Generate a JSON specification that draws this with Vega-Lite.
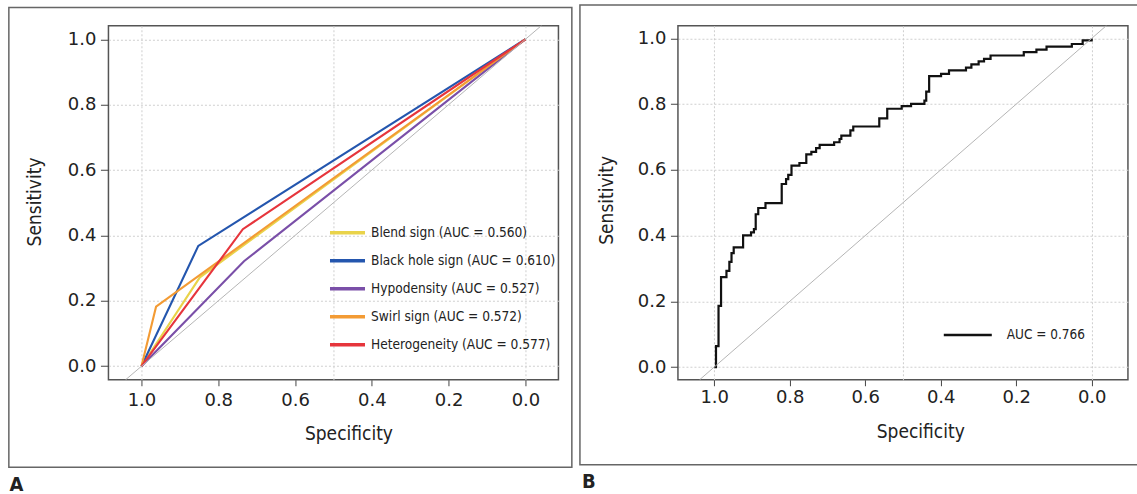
{
  "$schema": "https://vega.github.io/schema/vega-lite/v6.json",
  "background": "white",
  "padding": {"left": 6.45, "top": 2.75, "right": 0, "bottom": 0},
  "spacing": 4.5,
  "config": {
    "view": {"stroke": "#555", "strokeWidth": 1.5},
    "axis": {
      "domain": false,
      "grid": true,
      "gridColor": "#cfcfcf",
      "gridDash": [2, 2],
      "gridWidth": 1,
      "tickColor": "#444",
      "tickWidth": 1,
      "labelFont": "DejaVu Sans",
      "labelFontSize": 18,
      "labelColor": "#222",
      "labelFlush": false,
      "labelOverlap": false,
      "labelBound": false,
      "titleFont": "DejaVu Sans Condensed",
      "titleFontSize": 19,
      "titleFontWeight": "normal",
      "titleColor": "#222"
    }
  },
  "resolve": {
    "scale": {"x": "independent", "y": "independent", "color": "independent"},
    "legend": {"color": "independent"}
  },
  "hconcat": [
    {
      "width": 450,
      "height": 354,
      "layer": [
        {
          "data": {"values": [
            {"series": "Blend sign (AUC = 0.560)", "spec": 1, "sens": 0},
            {"series": "Blend sign (AUC = 0.560)", "spec": 0.848, "sens": 0.272},
            {"series": "Blend sign (AUC = 0.560)", "spec": 0, "sens": 1},
            {"series": "Black hole sign (AUC = 0.610)", "spec": 1, "sens": 0},
            {"series": "Black hole sign (AUC = 0.610)", "spec": 0.852, "sens": 0.368},
            {"series": "Black hole sign (AUC = 0.610)", "spec": 0, "sens": 1},
            {"series": "Hypodensity (AUC = 0.527)", "spec": 1, "sens": 0},
            {"series": "Hypodensity (AUC = 0.527)", "spec": 0.733, "sens": 0.321},
            {"series": "Hypodensity (AUC = 0.527)", "spec": 0, "sens": 1},
            {"series": "Swirl sign (AUC = 0.572)", "spec": 1, "sens": 0},
            {"series": "Swirl sign (AUC = 0.572)", "spec": 0.962, "sens": 0.182},
            {"series": "Swirl sign (AUC = 0.572)", "spec": 0, "sens": 1},
            {"series": "Heterogeneity (AUC = 0.577)", "spec": 1, "sens": 0},
            {"series": "Heterogeneity (AUC = 0.577)", "spec": 0.736, "sens": 0.419},
            {"series": "Heterogeneity (AUC = 0.577)", "spec": 0, "sens": 1}
          ]},
          "mark": {"type": "line", "strokeWidth": 2.1},
          "encoding": {
            "x": {
              "field": "spec", "type": "quantitative",
              "scale": {"domain": [1.086, -0.086], "nice": false, "zero": false},
              "axis": {
                "title": "Specificity",
                "values": [1, 0.8, 0.6, 0.5, 0.4, 0.2, 0],
                "labelExpr": "datum.value == 0.5 ? '' : format(datum.value, '.1f')",
                "gridOpacity": {"condition": {"test": "datum.value == 0 || datum.value == 0.5 || datum.value == 1", "value": 1}, "value": 0},
                "tickOpacity": {"condition": {"test": "datum.value == 0.5", "value": 0}, "value": 1},
                "tickSize": 6,
                "labelPadding": 5.5,
                "titleX": 240,
                "titleY": 59.5,
                "titleAlign": "center",
                "titleBaseline": "alphabetic"
              }
            },
            "y": {
              "field": "sens", "type": "quantitative",
              "scale": {"domain": [-0.0413, 1.0413], "nice": false, "zero": false},
              "axis": {
                "title": "Sensitivity",
                "values": [0, 0.2, 0.4, 0.6, 0.8, 1],
                "format": ".1f",
                "tickSize": 8,
                "labelPadding": 4.6,
                "titleX": -73.8,
                "titleY": 175.7,
                "titleAngle": -90,
                "titleAlign": "center",
                "titleBaseline": "middle"
              }
            },
            "color": {
              "field": "series", "type": "nominal",
              "scale": {
                "domain": ["Blend sign (AUC = 0.560)", "Black hole sign (AUC = 0.610)", "Hypodensity (AUC = 0.527)", "Swirl sign (AUC = 0.572)", "Heterogeneity (AUC = 0.577)"],
                "range": ["#E9D34A", "#2456AE", "#7A4FA8", "#F39B34", "#E6353C"]
              },
              "legend": {
                "title": null,
                "orient": "none",
                "legendX": 219.55,
                "legendY": 193.15,
                "padding": 0,
                "symbolType": "stroke",
                "symbolSize": 1225,
                "symbolStrokeWidth": 3.5,
                "symbolOpacity": 1,
                "clipHeight": 27.7,
                "rowPadding": 0,
                "labelOffset": 4,
                "labelLimit": 0,
                "labelFont": "DejaVu Sans Condensed",
                "labelFontSize": 13.6,
                "labelColor": "#222"
              }
            }
          }
        },
        {
          "data": {"values": [{}]},
          "mark": {"type": "rule", "color": "#b5b5b5", "strokeWidth": 1},
          "encoding": {
            "x": {"datum": 1.0413, "type": "quantitative"},
            "x2": {"datum": -0.0413},
            "y": {"datum": -0.0413, "type": "quantitative"},
            "y2": {"datum": 1.0413}
          }
        },
        {
          "data": {"values": [{}]},
          "mark": {"type": "rect", "filled": false, "stroke": "#666", "strokeWidth": 1.5},
          "encoding": {
            "x": {"datum": 1.3454, "type": "quantitative"},
            "x2": {"datum": -0.1209},
            "y": {"datum": 1.0973, "type": "quantitative"},
            "y2": {"datum": -0.3086}
          }
        },
        {
          "data": {"values": [{}]},
          "mark": {"type": "text", "text": "A", "align": "left", "baseline": "alphabetic", "font": "DejaVu Sans Condensed", "fontWeight": "bold", "fontSize": 20, "color": "#222"},
          "encoding": {
            "x": {"datum": 1.3438, "type": "quantitative"},
            "y": {"datum": -0.3808, "type": "quantitative"}
          }
        }
      ]
    },
    {
      "width": 450,
      "height": 354,
      "layer": [
        {
          "data": {"values": [
            {"label": "AUC = 0.766", "spec": 0, "sens": 1.0},
            {"label": "AUC = 0.766", "spec": 0.0239, "sens": 0.994},
            {"label": "AUC = 0.766", "spec": 0.0526, "sens": 0.983},
            {"label": "AUC = 0.766", "spec": 0.1196, "sens": 0.975},
            {"label": "AUC = 0.766", "spec": 0.1464, "sens": 0.966},
            {"label": "AUC = 0.766", "spec": 0.1799, "sens": 0.958},
            {"label": "AUC = 0.766", "spec": 0.2679, "sens": 0.948},
            {"label": "AUC = 0.766", "spec": 0.2852, "sens": 0.938},
            {"label": "AUC = 0.766", "spec": 0.2995, "sens": 0.930},
            {"label": "AUC = 0.766", "spec": 0.3187, "sens": 0.921},
            {"label": "AUC = 0.766", "spec": 0.3330, "sens": 0.911},
            {"label": "AUC = 0.766", "spec": 0.3780, "sens": 0.903},
            {"label": "AUC = 0.766", "spec": 0.3990, "sens": 0.892},
            {"label": "AUC = 0.766", "spec": 0.4306, "sens": 0.885},
            {"label": "AUC = 0.766", "spec": 0.4383, "sens": 0.838},
            {"label": "AUC = 0.766", "spec": 0.4431, "sens": 0.811},
            {"label": "AUC = 0.766", "spec": 0.4785, "sens": 0.801},
            {"label": "AUC = 0.766", "spec": 0.5033, "sens": 0.794},
            {"label": "AUC = 0.766", "spec": 0.5416, "sens": 0.786},
            {"label": "AUC = 0.766", "spec": 0.5627, "sens": 0.757},
            {"label": "AUC = 0.766", "spec": 0.6316, "sens": 0.732},
            {"label": "AUC = 0.766", "spec": 0.6392, "sens": 0.720},
            {"label": "AUC = 0.766", "spec": 0.6632, "sens": 0.704},
            {"label": "AUC = 0.766", "spec": 0.6679, "sens": 0.694},
            {"label": "AUC = 0.766", "spec": 0.6823, "sens": 0.684},
            {"label": "AUC = 0.766", "spec": 0.7206, "sens": 0.676},
            {"label": "AUC = 0.766", "spec": 0.7301, "sens": 0.666},
            {"label": "AUC = 0.766", "spec": 0.7426, "sens": 0.655},
            {"label": "AUC = 0.766", "spec": 0.7560, "sens": 0.647},
            {"label": "AUC = 0.766", "spec": 0.7742, "sens": 0.621},
            {"label": "AUC = 0.766", "spec": 0.7952, "sens": 0.613},
            {"label": "AUC = 0.766", "spec": 0.8038, "sens": 0.585},
            {"label": "AUC = 0.766", "spec": 0.8096, "sens": 0.572},
            {"label": "AUC = 0.766", "spec": 0.8211, "sens": 0.557},
            {"label": "AUC = 0.766", "spec": 0.8641, "sens": 0.499},
            {"label": "AUC = 0.766", "spec": 0.8833, "sens": 0.484},
            {"label": "AUC = 0.766", "spec": 0.8900, "sens": 0.465},
            {"label": "AUC = 0.766", "spec": 0.8947, "sens": 0.420},
            {"label": "AUC = 0.766", "spec": 0.9024, "sens": 0.410},
            {"label": "AUC = 0.766", "spec": 0.9234, "sens": 0.401},
            {"label": "AUC = 0.766", "spec": 0.9483, "sens": 0.364},
            {"label": "AUC = 0.766", "spec": 0.9541, "sens": 0.347},
            {"label": "AUC = 0.766", "spec": 0.9598, "sens": 0.320},
            {"label": "AUC = 0.766", "spec": 0.9675, "sens": 0.293},
            {"label": "AUC = 0.766", "spec": 0.9818, "sens": 0.274},
            {"label": "AUC = 0.766", "spec": 0.9885, "sens": 0.186},
            {"label": "AUC = 0.766", "spec": 0.9952, "sens": 0.064},
            {"label": "AUC = 0.766", "spec": 1.0, "sens": 0.0}
          ]},
          "mark": {"type": "line", "strokeWidth": 2.2, "interpolate": "step-after"},
          "encoding": {
            "x": {
              "field": "spec", "type": "quantitative",
              "scale": {"domain": [1.096, -0.096], "nice": false, "zero": false},
              "axis": {
                "title": "Specificity",
                "values": [1, 0.8, 0.6, 0.5, 0.4, 0.2, 0],
                "labelExpr": "datum.value == 0.5 ? '' : format(datum.value, '.1f')",
                "gridOpacity": {"condition": {"test": "datum.value == 0 || datum.value == 0.5 || datum.value == 1", "value": 1}, "value": 0},
                "tickOpacity": {"condition": {"test": "datum.value == 0.5", "value": 0}, "value": 1},
                "tickSize": 6,
                "labelPadding": 3.1,
                "titleX": 242.3,
                "titleY": 57.3,
                "titleAlign": "center",
                "titleBaseline": "alphabetic"
              }
            },
            "y": {
              "field": "sens", "type": "quantitative",
              "scale": {"domain": [-0.0385, 1.0385], "nice": false, "zero": false},
              "axis": {
                "title": "Sensitivity",
                "values": [0, 0.2, 0.4, 0.6, 0.8, 1],
                "format": ".1f",
                "tickSize": 7.5,
                "labelPadding": 4.5,
                "titleX": -71.4,
                "titleY": 174.1,
                "titleAngle": -90,
                "titleAlign": "center",
                "titleBaseline": "middle"
              }
            },
            "color": {
              "field": "label", "type": "nominal",
              "scale": {"range": ["#111111"]},
              "legend": {
                "title": null,
                "orient": "none",
                "legendX": 264.35,
                "legendY": 295.3,
                "padding": 0,
                "symbolType": "stroke",
                "symbolSize": 2304,
                "symbolStrokeWidth": 2.5,
                "symbolOpacity": 1,
                "clipHeight": 28,
                "rowPadding": 0,
                "labelOffset": 13.45,
                "labelLimit": 0,
                "labelFont": "DejaVu Sans Condensed",
                "labelFontSize": 13.5,
                "labelColor": "#222"
              }
            }
          }
        },
        {
          "data": {"values": [{}]},
          "mark": {"type": "rule", "color": "#b5b5b5", "strokeWidth": 1},
          "encoding": {
            "x": {"datum": 1.0385, "type": "quantitative"},
            "x2": {"datum": -0.0385},
            "y": {"datum": -0.0385, "type": "quantitative"},
            "y2": {"datum": 1.0385}
          }
        },
        {
          "data": {"values": [{}]},
          "mark": {"type": "rect", "filled": false, "stroke": "#666", "strokeWidth": 1.5},
          "encoding": {
            "x": {"datum": 1.3556, "type": "quantitative"},
            "x2": {"datum": -0.1233},
            "y": {"datum": 1.1015, "type": "quantitative"},
            "y2": {"datum": -0.2971}
          }
        },
        {
          "data": {"values": [{}]},
          "mark": {"type": "text", "text": "B", "align": "left", "baseline": "alphabetic", "font": "DejaVu Sans Condensed", "fontWeight": "bold", "fontSize": 20, "color": "#222"},
          "encoding": {
            "x": {"datum": 1.3503, "type": "quantitative"},
            "y": {"datum": -0.3689, "type": "quantitative"}
          }
        }
      ]
    }
  ]
}
